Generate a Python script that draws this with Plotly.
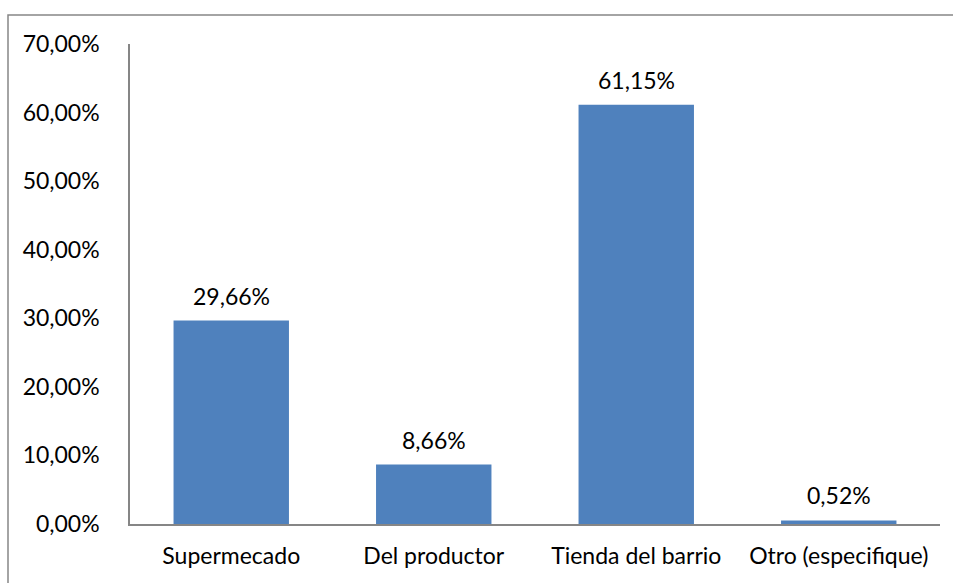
import plotly.graph_objects as go

categories = ["Supermecado", "Del productor", "Tienda del barrio", "Otro (especifique)"]
values = [29.66, 8.66, 61.15, 0.52]
tick_vals = [0, 10, 20, 30, 40, 50, 60, 70]
tick_text = ["0,00%", "10,00%", "20,00%", "30,00%", "40,00%", "50,00%", "60,00%", "70,00%"]

FONT = "Lato, Calibri, Carlito, sans-serif"
FS = 23
W, H = 953, 583
ML, MR, MT, MB = 130, 13, 44, 59
pw, ph = W - ML - MR, H - MT - MB


def fmt(v):
    return f"{v:.2f}".replace(".", ",") + "%"


fig = go.Figure()
fig.add_trace(go.Bar(
    x=categories, y=values,
    marker=dict(color="#4F81BD", line=dict(width=0)),
    hoverinfo="skip",
))

for c, v in zip(categories, values):
    fig.add_annotation(
        x=c, y=v, text=fmt(v), showarrow=False,
        xref="x", yref="y", yanchor="bottom", yshift=9,
        font=dict(family=FONT, size=FS, color="#000000"),
    )

# outer chart frame
fig.add_shape(
    type="rect", xref="paper", yref="paper",
    x0=(8 - ML) / pw, x1=(960 - ML) / pw,
    y0=1 - (600 - MT) / ph, y1=1 + (MT - 15) / ph,
    line=dict(color="#868686", width=1.5), fillcolor="rgba(0,0,0,0)",
    layer="below",
)

fig.update_layout(
    width=W, height=H,
    margin=dict(l=ML, r=MR, t=MT, b=MB),
    paper_bgcolor="white", plot_bgcolor="white",
    bargap=0.43,
    showlegend=False,
    font=dict(family=FONT, size=FS, color="#000000"),
)
fig.update_xaxes(
    showline=True, linecolor="#868686", linewidth=1.5,
    showgrid=False, ticks="", tickfont=dict(family=FONT, size=FS),
    ticklabelstandoff=11,
)
fig.update_yaxes(
    range=[0, 70], tickvals=tick_vals, ticktext=tick_text,
    showline=True, linecolor="#868686", linewidth=1.5,
    showgrid=False, zeroline=False, ticks="",
    tickfont=dict(family=FONT, size=FS),
    ticklabelstandoff=24,
)

fig.write_html("out.html")
